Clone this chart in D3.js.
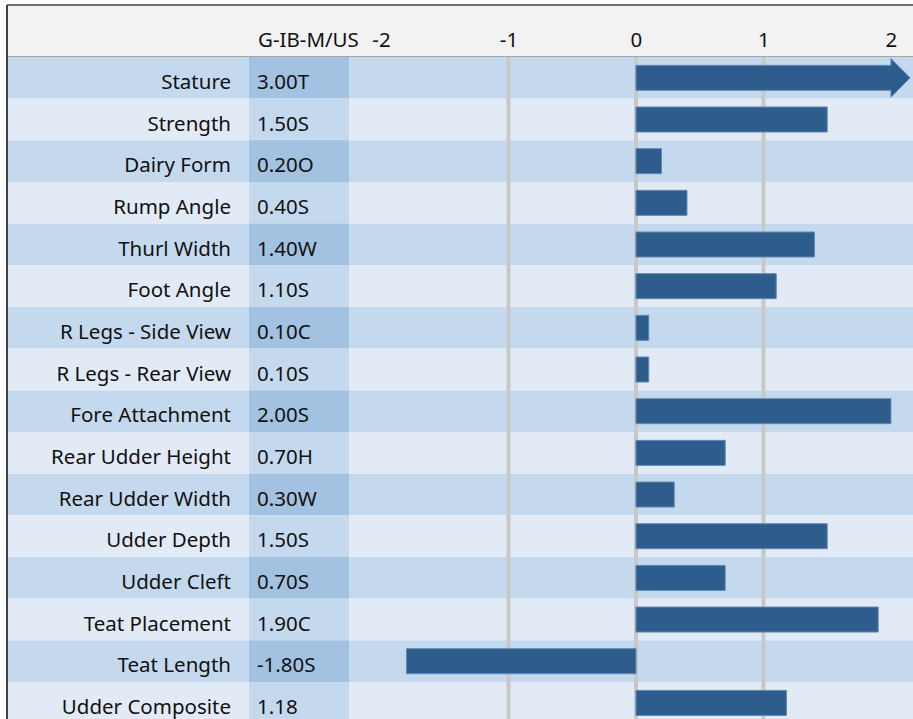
<!doctype html>
<html lang="en">
  <head>
    <meta charset="UTF-8"/>
    <title>Linear profile</title>
    <script src="https://cdnjs.cloudflare.com/ajax/libs/d3/7.8.5/d3.min.js"></script>
    <style>
      body { margin: 0; background: #fff; }
      svg text { font-family: "Noto Sans", sans-serif; font-size: 20.5px; fill: #111; }
    </style>
  </head>
  <body>
    <div id="chart"></div>
    <script>
      var traits = ["Stature", "Strength", "Dairy Form", "Rump Angle", "Thurl Width", "Foot Angle",
                    "R Legs - Side View", "R Legs - Rear View", "Fore Attachment", "Rear Udder Height",
                    "Rear Udder Width", "Udder Depth", "Udder Cleft", "Teat Placement", "Teat Length",
                    "Udder Composite"];
      var values = [3.00, 1.50, 0.20, 0.40, 1.40, 1.10, 0.10, 0.10, 2.00, 0.70, 0.30, 1.50, 0.70, 1.90, -1.80, 1.18];
      var valueLabels = ["3.00T", "1.50S", "0.20O", "0.40S", "1.40W", "1.10S", "0.10C", "0.10S", "2.00S",
                         "0.70H", "0.30W", "1.50S", "0.70S", "1.90C", "-1.80S", "1.18"];
      var tickValues = [-2, -1, 0, 1, 2];
      var gridValues = [-1, 0, 1];
      var columnTitle = "G-IB-M/US";

      var width = 913, height = 719;
      var leftX = 7, topY = 5, headerH = 51;
      var labelRight = 231, valueColL = 249, valueColR = 349;
      var rowH = 41.67;
      var axisMax = 2, arrowTip = 2.15;

      var svg = d3.select("#chart").append("svg")
          .attr("width", width).attr("height", height);

      var x = d3.scaleLinear().domain([-2.251, 2.173]).range([valueColR, width]);
      var y = d3.scaleBand().domain(traits)
          .range([topY + headerH + 1, topY + headerH + 1 + rowH * traits.length]).padding(0);

      // header
      svg.append("rect").attr("x", leftX).attr("y", topY).attr("width", width - leftX).attr("height", headerH)
        .attr("fill", "#f2f2f2");
      svg.append("line").attr("x1", leftX).attr("x2", width).attr("y1", topY + headerH + 0.5).attr("y2", topY + headerH + 0.5)
        .attr("stroke", "#a6a6a6").attr("stroke-width", 1);

      // row stripes
      var rows = svg.selectAll(".row").data(traits).enter().append("g").attr("class", "row");
      rows.append("rect")
        .attr("x", leftX).attr("y", d => y(d)).attr("width", width - leftX).attr("height", y.bandwidth())
        .attr("fill", (d, i) => i % 2 == 0 ? "#c5d9ee" : "#e1eaf5");
      rows.append("rect")
        .attr("x", valueColL).attr("y", d => y(d)).attr("width", valueColR - valueColL).attr("height", y.bandwidth())
        .attr("fill", (d, i) => i % 2 == 0 ? "#a3c1e1" : "#c5d9ee");

      // gridlines
      svg.selectAll(".grid").data(gridValues).enter().append("line")
        .attr("x1", d => x(d)).attr("x2", d => x(d))
        .attr("y1", y.range()[0]).attr("y2", y.range()[1])
        .attr("stroke", "#c8c8c8").attr("stroke-width", 4);

      // top axis labels (plain hyphen for negatives, like the original)
      var axis = d3.axisTop(x).tickValues(tickValues).tickSize(0).tickPadding(0).tickFormat(d => String(d));
      var axisG = svg.append("g").attr("transform", "translate(0," + (topY + 42) + ")").call(axis);
      axisG.select(".domain").remove();
      axisG.selectAll("text").attr("font-family", "Noto Sans").attr("font-size", 20.5).attr("fill", "#111");

      svg.append("text").attr("x", valueColL + 9).attr("y", topY + 42).text(columnTitle);

      // labels
      var baseOff = 11;
      rows.append("text")
        .attr("x", labelRight).attr("y", d => y(d) + y.bandwidth() / 2 + baseOff)
        .attr("text-anchor", "end").text(d => d);
      rows.append("text")
        .attr("x", valueColL + 8).attr("y", d => y(d) + y.bandwidth() / 2 + baseOff)
        .text((d, i) => valueLabels[i]);

      // bars
      var barH = 25;
      var barOff = (y.bandwidth() - barH) / 2;
      var barData = traits.map((t, i) => ({trait: t, value: values[i]}));
      svg.selectAll(".bar").data(barData).enter().append("path")
        .attr("class", "bar")
        .attr("fill", "#2e5c8c").attr("stroke", "#5f88b5").attr("stroke-width", 1)
        .attr("d", d => {
          var y0 = y(d.trait) + barOff, y1 = y0 + barH;
          if (d.value > axisMax) {
            var xb = x(axisMax), cy = y(d.trait) + y.bandwidth() / 2;
            var hh = y.bandwidth() / 2 - 1.5;
            return "M" + x(0) + "," + y0 + "H" + xb + "V" + (cy - hh) + "L" + x(arrowTip) + "," + cy +
              "L" + xb + "," + (cy + hh) + "V" + y1 + "H" + x(0) + "Z";
          }
          var a = Math.min(x(0), x(d.value)), b = Math.max(x(0), x(d.value));
          return "M" + a + "," + y0 + "H" + b + "V" + y1 + "H" + a + "Z";
        });

      // outer border
      svg.append("line").attr("x1", leftX).attr("x2", leftX).attr("y1", topY).attr("y2", height)
        .attr("stroke", "#404040").attr("stroke-width", 2);
      svg.append("line").attr("x1", leftX).attr("x2", width).attr("y1", topY).attr("y2", topY)
        .attr("stroke", "#404040").attr("stroke-width", 1.5);
    </script>
  </body>
</html>
